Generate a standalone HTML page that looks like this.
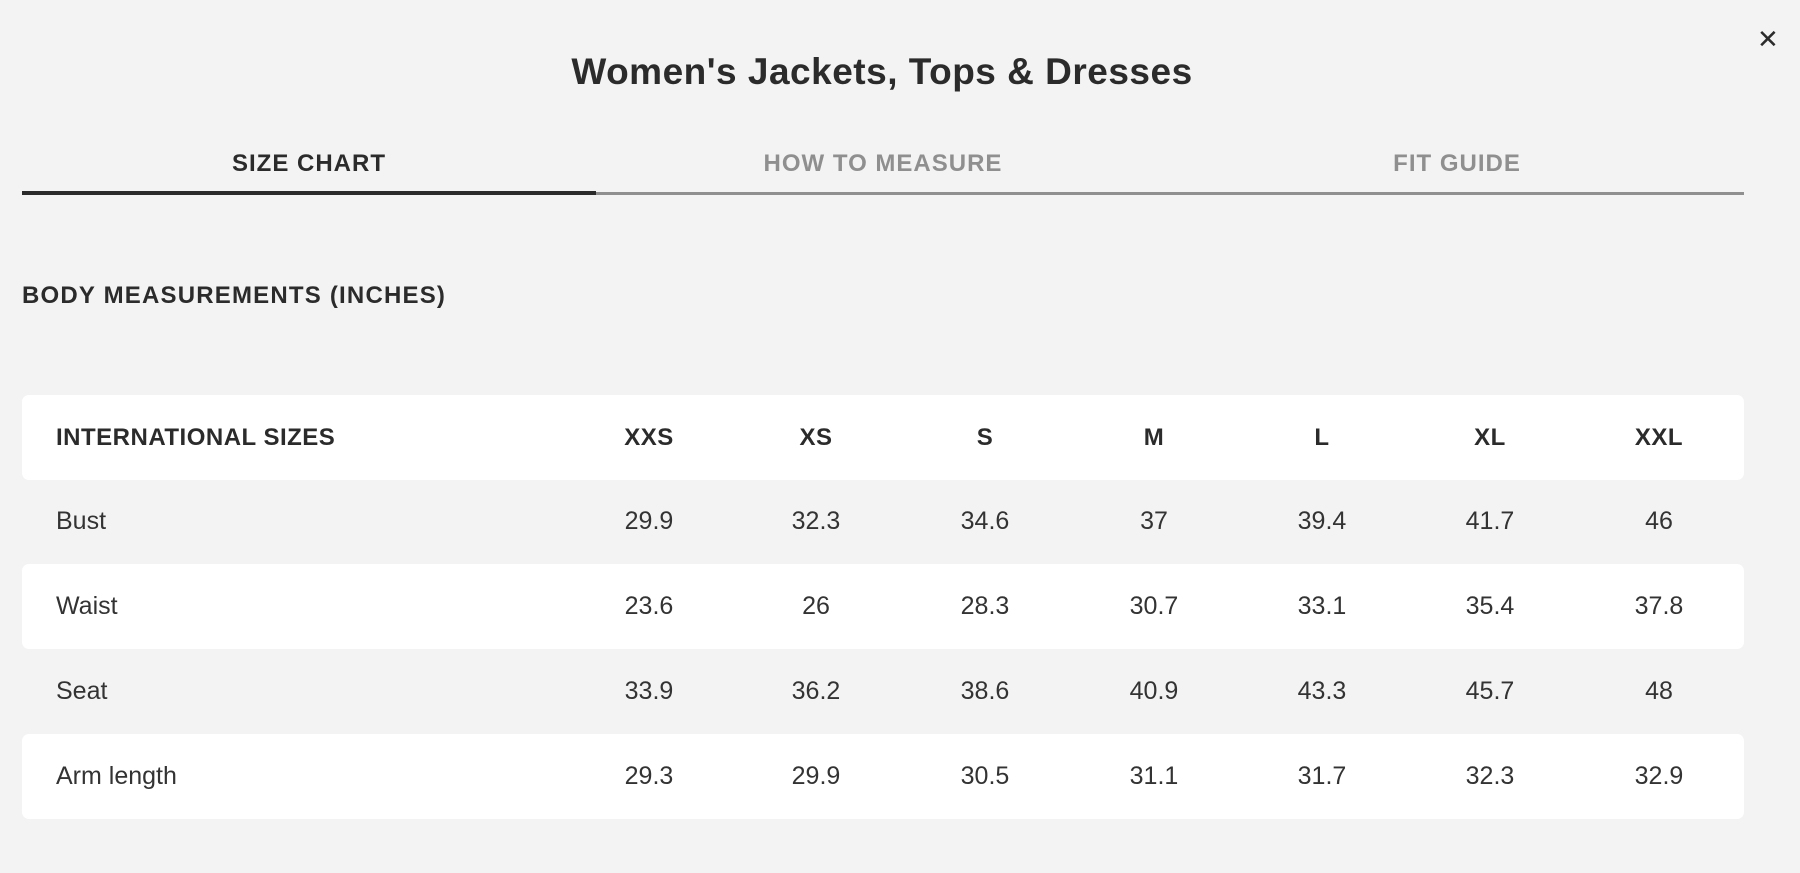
<!DOCTYPE html>
<html><head><meta charset="utf-8"><style>
body{margin:0;width:1800px;height:873px;background:#f3f3f3;font-family:"Liberation Sans",sans-serif;color:#2b2b2b;position:relative;overflow:hidden}
.a{position:absolute}
.title{left:0;width:1764px;text-align:center;top:51px;font-size:37px;font-weight:bold;letter-spacing:0.5px}
.tab{top:150px;font-size:24px;font-weight:bold;letter-spacing:1px;width:574px;text-align:center}
.row{left:22px;width:1722px;height:85px;border-radius:7px}
.w{background:#fff}
.cell{position:absolute;top:0;line-height:85px;font-size:25px;color:#333;width:120px;text-align:center;margin-left:-60px}
.lbl{position:absolute;left:34px;top:0;line-height:85px;font-size:25px;color:#333}
.h .cell,.h .lbl{font-weight:bold;font-size:24px;color:#2b2b2b;letter-spacing:0.5px}
</style></head><body>
<div class="a title">Women's Jackets, Tops &amp; Dresses</div>
<div class="a" style="left:1757px;top:24px;font-size:26px;">✕</div>
<div class="a tab" style="left:22px">SIZE CHART</div>
<div class="a tab" style="left:596px;color:#8f8f8f">HOW TO MEASURE</div>
<div class="a tab" style="left:1170px;color:#8f8f8f">FIT GUIDE</div>
<div class="a" style="left:22px;top:192px;width:1722px;height:3px;background:#8f8f8f"></div>
<div class="a" style="left:22px;top:191px;width:574px;height:4px;background:#2b2b2b"></div>
<div class="a" style="left:22px;top:282px;font-size:24px;font-weight:bold;letter-spacing:1.2px">BODY MEASUREMENTS (INCHES)</div>

<div class="a row w h" style="top:395px"><div class="lbl">INTERNATIONAL SIZES</div>
<div class="cell" style="left:627px">XXS</div><div class="cell" style="left:794px">XS</div><div class="cell" style="left:963px">S</div><div class="cell" style="left:1132px">M</div><div class="cell" style="left:1300px">L</div><div class="cell" style="left:1468px">XL</div><div class="cell" style="left:1637px">XXL</div></div>

<div class="a row" style="top:479px"><div class="lbl">Bust</div>
<div class="cell" style="left:627px">29.9</div><div class="cell" style="left:794px">32.3</div><div class="cell" style="left:963px">34.6</div><div class="cell" style="left:1132px">37</div><div class="cell" style="left:1300px">39.4</div><div class="cell" style="left:1468px">41.7</div><div class="cell" style="left:1637px">46</div></div>

<div class="a row w" style="top:564px"><div class="lbl">Waist</div>
<div class="cell" style="left:627px">23.6</div><div class="cell" style="left:794px">26</div><div class="cell" style="left:963px">28.3</div><div class="cell" style="left:1132px">30.7</div><div class="cell" style="left:1300px">33.1</div><div class="cell" style="left:1468px">35.4</div><div class="cell" style="left:1637px">37.8</div></div>

<div class="a row" style="top:649px"><div class="lbl">Seat</div>
<div class="cell" style="left:627px">33.9</div><div class="cell" style="left:794px">36.2</div><div class="cell" style="left:963px">38.6</div><div class="cell" style="left:1132px">40.9</div><div class="cell" style="left:1300px">43.3</div><div class="cell" style="left:1468px">45.7</div><div class="cell" style="left:1637px">48</div></div>

<div class="a row w" style="top:734px"><div class="lbl">Arm length</div>
<div class="cell" style="left:627px">29.3</div><div class="cell" style="left:794px">29.9</div><div class="cell" style="left:963px">30.5</div><div class="cell" style="left:1132px">31.1</div><div class="cell" style="left:1300px">31.7</div><div class="cell" style="left:1468px">32.3</div><div class="cell" style="left:1637px">32.9</div></div>
</body></html>
